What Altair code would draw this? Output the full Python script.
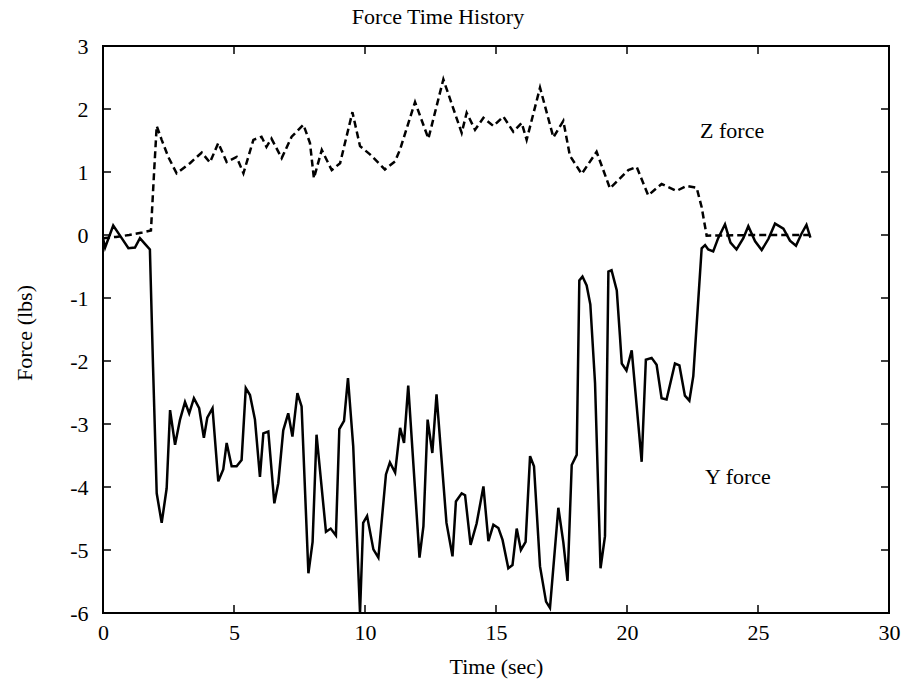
import altair as alt
import pandas as pd

# ---- data ----
z_time = [0.0, 0.5, 1.0, 1.5, 1.83, 1.95, 2.05, 2.24, 2.49, 2.81, 3.32, 3.77, 4.08, 4.40, 4.72,
          5.10, 5.36, 5.74, 6.05, 6.24, 6.43, 6.82, 7.20, 7.65, 7.90, 8.05, 8.35, 8.73, 9.05,
          9.52, 9.81, 10.19, 10.76, 11.15, 11.34, 11.91, 12.42, 12.99, 13.69, 13.88, 14.20,
          14.52, 14.90, 15.28, 15.66, 15.98, 16.17, 16.68, 17.19, 17.57, 17.82, 18.27, 18.84,
          19.35, 20.05, 20.37, 20.81, 21.32, 21.89, 22.28, 22.66, 22.85, 23.04, 25.0, 27.0]
z_force = [-0.05, -0.03, 0.0, 0.04, 0.07, 1.0, 1.73, 1.51, 1.24, 0.98, 1.14, 1.31, 1.15, 1.46, 1.16,
           1.24, 0.98, 1.51, 1.56, 1.40, 1.53, 1.22, 1.56, 1.75, 1.46, 0.90, 1.35, 1.03, 1.14,
           1.95, 1.41, 1.28, 1.04, 1.17, 1.36, 2.11, 1.53, 2.47, 1.62, 1.94, 1.67,
           1.86, 1.73, 1.88, 1.64, 1.78, 1.51, 2.34, 1.55, 1.81, 1.26, 0.97, 1.32,
           0.74, 1.03, 1.08, 0.63, 0.81, 0.70, 0.78, 0.75, 0.44, -0.01, 0.0, 0.0]

y_time = [0.0, 0.08, 0.39, 0.65, 0.97, 1.22, 1.41, 1.60, 1.79, 1.91, 2.05, 2.24, 2.43, 2.56, 2.75,
          2.94, 3.13, 3.29, 3.47, 3.67, 3.85, 3.98, 4.18, 4.40, 4.59, 4.72, 4.91, 5.10, 5.29,
          5.45, 5.61, 5.80, 5.99, 6.12, 6.31, 6.54, 6.69, 6.88, 7.07, 7.23, 7.42, 7.58, 7.84,
          8.00, 8.15, 8.51, 8.69, 8.89, 9.02, 9.20, 9.35, 9.55, 9.81, 9.93, 10.08, 10.32, 10.51,
          10.80, 10.95, 11.15, 11.34, 11.49, 11.65, 12.08, 12.23, 12.39, 12.57, 12.73, 13.11,
          13.34, 13.47, 13.69, 13.82, 14.03, 14.26, 14.52, 14.71, 14.90, 15.09, 15.25, 15.47,
          15.63, 15.79, 15.95, 16.13, 16.30, 16.45, 16.68, 16.91, 17.06, 17.38, 17.57, 17.73,
          17.89, 18.08, 18.18, 18.30, 18.46, 18.60, 18.78, 18.99, 19.16, 19.29, 19.41, 19.61,
          19.73, 19.80, 19.98, 20.18, 20.56, 20.72, 20.94, 21.13, 21.32, 21.51, 21.83, 22.00,
          22.21, 22.38, 22.53, 22.85, 22.98, 23.10, 23.29, 23.48, 23.74, 23.95, 24.18, 24.44,
          24.63, 24.89, 25.14, 25.40, 25.65, 25.97, 26.22, 26.45, 26.66, 26.85, 27.00]
y_force = [-0.05, -0.20, 0.15, -0.01, -0.21, -0.20, -0.05, -0.14, -0.23, -2.09, -4.10, -4.57, -4.02, -2.78, -3.33,
           -2.93, -2.65, -2.83, -2.59, -2.75, -3.22, -2.90, -2.75, -3.91, -3.72, -3.30, -3.67, -3.67, -3.57,
           -2.43, -2.54, -2.93, -3.84, -3.15, -3.12, -4.26, -3.94, -3.10, -2.83, -3.20, -2.51, -2.72, -5.37,
           -4.87, -3.17, -4.71, -4.66, -4.77, -3.08, -2.95, -2.27, -3.35, -6.00, -4.57, -4.46, -4.99, -5.12,
           -3.80, -3.61, -3.77, -3.06, -3.30, -2.39, -5.12, -4.62, -2.93, -3.46, -2.53, -4.57,
           -5.10, -4.23, -4.10, -4.13, -4.92, -4.58, -3.99, -4.86, -4.60, -4.65, -4.84, -5.29,
           -5.24, -4.66, -5.00, -4.87, -3.51, -3.67, -5.26, -5.82, -5.92, -4.33, -4.88, -5.49,
           -3.65, -3.49, -0.72, -0.66, -0.80, -1.10, -2.35, -5.29, -4.78, -0.58, -0.56, -0.88,
           -1.60, -2.04, -2.15, -1.83, -3.60, -1.98, -1.95, -2.06, -2.59, -2.61, -2.04, -2.07,
           -2.55, -2.63, -2.24, -0.21, -0.16, -0.23, -0.26, -0.05, 0.17, -0.12, -0.23, -0.05,
           0.14, -0.10, -0.24, -0.06, 0.18, 0.10, -0.09, -0.17, 0.02, 0.16, -0.04]

x_ticks = [0, 5, 10, 15, 20, 25, 30]
y_ticks = [-6, -5, -4, -3, -2, -1, 0, 1, 2, 3]
inner_x_ticks = [5, 10, 15, 20, 25]
inner_y_ticks = [-5, -4, -3, -2, -1, 0, 1, 2]

label_text = ["Z force", "Y force"]
label_x = [22.79, 22.98]
label_y = [1.54, -3.95]
title_text = ["Force Time History"]

W, H = 786, 567
FONT = "Liberation Serif"

z_df = pd.DataFrame({"t": z_time, "f": z_force})
y_df = pd.DataFrame({"t": y_time, "f": y_force})
xt_df = pd.DataFrame({"t": inner_x_ticks})
yt_df = pd.DataFrame({"f": inner_y_ticks})
lab_df = pd.DataFrame({"t": label_x, "f": label_y, "text": label_text})
title_df = pd.DataFrame({"text": title_text})

x_scale = alt.Scale(domain=[0, 30], nice=False, zero=False)
y_scale = alt.Scale(domain=[-6, 3], nice=False, zero=False)

x_axis = alt.Axis(values=x_ticks, labelExpr="'' + datum.value", ticks=False, tickSize=0,
                  domain=False, grid=False,
                  labelFont=FONT, labelFontSize=22, labelColor="black", labelPadding=9,
                  labelFlush=False, title="Time (sec)", titleFont=FONT, titleFontSize=22,
                  titleFontWeight="normal", titleColor="black", titleBaseline="alphabetic",
                  titleY=60, titleX=W / 2)
y_axis = alt.Axis(values=y_ticks, labelExpr="'' + datum.value", ticks=False, tickSize=0,
                  domain=False, grid=False,
                  labelFont=FONT, labelFontSize=22, labelColor="black", labelPadding=15,
                  labelFlush=False, title="Force (lbs)", titleFont=FONT, titleFontSize=22,
                  titleFontWeight="normal", titleColor="black", titleBaseline="alphabetic",
                  titleAngle=270, titleX=-72, titleY=H / 2 + 3)

LW = 2.5
z_line = alt.Chart(z_df).mark_line(color="black", strokeWidth=LW, strokeDash=[7, 4], clip=True).encode(
    x=alt.X("t:Q", scale=x_scale, axis=x_axis),
    y=alt.Y("f:Q", scale=y_scale, axis=y_axis),
)
y_line = alt.Chart(y_df).mark_line(color="black", strokeWidth=LW, clip=True).encode(
    x=alt.X("t:Q", scale=x_scale),
    y=alt.Y("f:Q", scale=y_scale),
)

TL = 8
top_ticks = alt.Chart(xt_df).mark_rule(color="black", strokeWidth=1.5).encode(
    x=alt.X("t:Q", scale=x_scale), y=alt.value(0), y2=alt.value(TL))
bot_ticks = alt.Chart(xt_df).mark_rule(color="black", strokeWidth=1.5).encode(
    x=alt.X("t:Q", scale=x_scale), y=alt.value(H), y2=alt.value(H - TL))
left_ticks = alt.Chart(yt_df).mark_rule(color="black", strokeWidth=1.5).encode(
    y=alt.Y("f:Q", scale=y_scale), x=alt.value(0), x2=alt.value(TL))
right_ticks = alt.Chart(yt_df).mark_rule(color="black", strokeWidth=1.5).encode(
    y=alt.Y("f:Q", scale=y_scale), x=alt.value(W), x2=alt.value(W - TL))

labels = alt.Chart(lab_df).mark_text(font=FONT, fontSize=22, color="black", align="left",
                                     baseline="alphabetic").encode(
    x=alt.X("t:Q", scale=x_scale), y=alt.Y("f:Q", scale=y_scale), text="text:N")

title_mark = alt.Chart(title_df).mark_text(font=FONT, fontSize=22, color="black", align="center",
                                           baseline="alphabetic").encode(
    text="text:N", x=alt.value(W / 2 - 58), y=alt.value(-22))

chart = alt.layer(z_line, y_line, top_ticks, bot_ticks, left_ticks, right_ticks, labels,
                  title_mark).properties(
    width=W, height=H,
    autosize=alt.AutoSizeParams(type="none"),
    padding={"left": 103, "top": 46, "right": 20, "bottom": 77},
).configure(
    background="white",
    view=alt.ViewConfig(stroke="black", strokeWidth=2),
)

chart.save("out.html", embed_options={"renderer": "svg", "actions": False})
